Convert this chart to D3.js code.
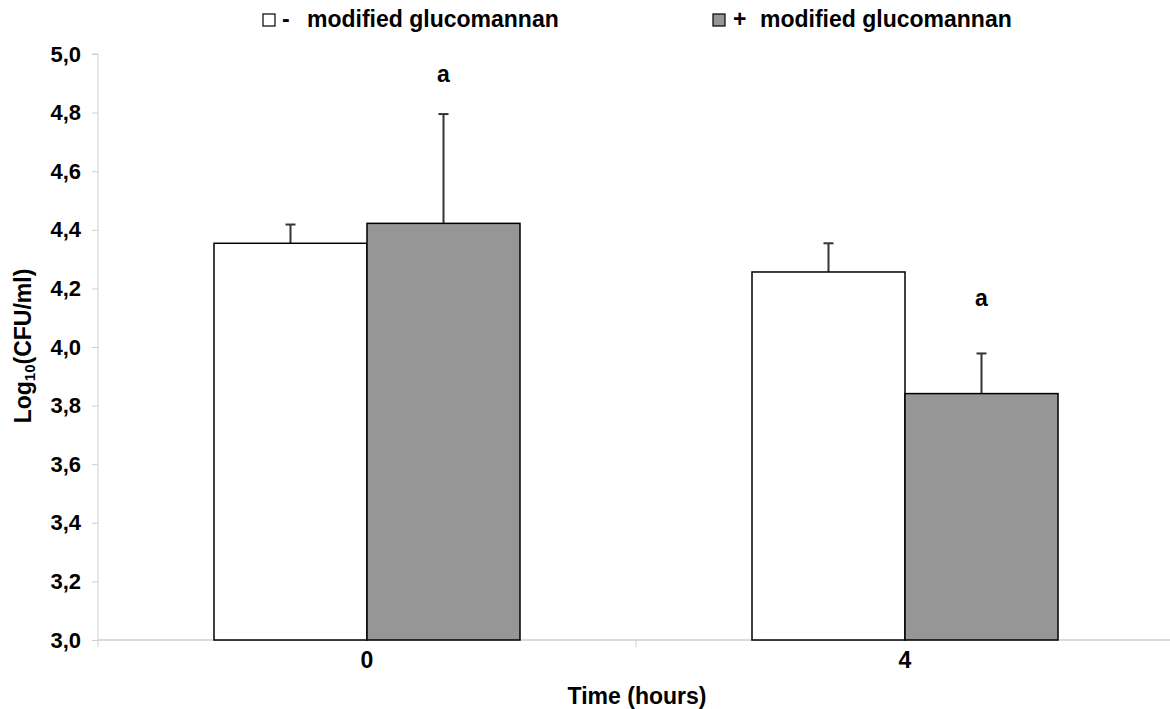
<!DOCTYPE html>
<html><head><meta charset="utf-8">
<script src="https://cdn.jsdelivr.net/npm/d3@7"></script>
<style>body{margin:0;background:#fff}svg{display:block;font-family:"Liberation Sans",Arial,sans-serif;font-weight:bold}</style>
</head><body>
<svg id="c" width="1170" height="709"></svg>
<script>
const categories = ["0", "4"];
const seriesSymbols = ["-", "+"];
const seriesNames = ["modified glucomannan", "modified glucomannan"];
const seriesColors = ["#ffffff", "#969696"];
const withoutValues = [4.354, 4.256];
const withoutErrors = [0.064, 0.098];
const withValues = [4.422, 3.841];
const withErrors = [0.373, 0.137];
const withLabels = ["a", "a"];
const yTicks = [3.0, 3.2, 3.4, 3.6, 3.8, 4.0, 4.2, 4.4, 4.6, 4.8, 5.0];

(function () {
const series = [
  {sym: seriesSymbols[0], name: seriesNames[0], color: seriesColors[0], values: withoutValues, errors: withoutErrors, labels: ["", ""]},
  {sym: seriesSymbols[1], name: seriesNames[1], color: seriesColors[1], values: withValues, errors: withErrors, labels: withLabels}
];

const svg = d3.select("#c");
const pl = 98, pr = 1174, pt = 54, pb = 640;
const FS = 23;

const y = d3.scaleLinear().domain([3, 5]).range([pb, pt]);
const x0 = d3.scaleBand().domain(categories).range([pl, pr]).paddingInner(0).paddingOuter(0);
const groupW = 306;
const x1 = d3.scaleBand().domain([0, 1]).range([0, groupW]).padding(0);
const offset = (x0.bandwidth() - groupW) / 2;

// y axis
const yAxis = d3.axisLeft(y).tickValues(yTicks).tickSize(6).tickFormat(d => d3.format(".1f")(d).replace(".", ","));
const gy = svg.append("g").attr("transform", `translate(${pl},0)`).call(yAxis);
gy.select(".domain").attr("stroke", "#cfcfcf").attr("stroke-width", 1).attr("d", `M-6,${pt}H0V${pb}`);
gy.selectAll(".tick line").attr("stroke", "#cfcfcf");
gy.selectAll(".tick text").attr("fill", "#000").attr("font-size", 22).attr("font-weight", "bold")
  .attr("font-family", "Liberation Sans, Arial, sans-serif").attr("x", -17);

// x axis
const gx = svg.append("g").attr("transform", `translate(0,${pb})`);
gx.append("line").attr("x1", pl).attr("x2", 1170).attr("stroke", "#cfcfcf").attr("stroke-width", 1.5);
gx.selectAll(".bt").data([x0(categories[1])]).enter().append("line")
  .attr("x1", d => d).attr("x2", d => d).attr("y1", 0).attr("y2", 7).attr("stroke", "#cfcfcf");
gx.append("line").attr("x1", pl).attr("x2", pl).attr("y1", 0).attr("y2", 7).attr("stroke", "#cfcfcf");
gx.selectAll(".cl").data(categories).enter().append("text")
  .attr("x", d => x0(d) + x0.bandwidth() / 2).attr("y", 28).attr("text-anchor", "middle")
  .attr("font-size", FS).text(d => d);

// bars
series.forEach((s, si) => {
  const g = svg.append("g");
  categories.forEach((c, ci) => {
    const bx = x0(c) + offset + x1(si);
    const bw = x1.bandwidth();
    const v = s.values[ci];
    const cx = bx + bw / 2;
    g.append("line").attr("x1", cx).attr("x2", cx).attr("y1", y(v)).attr("y2", y(v + s.errors[ci]))
      .attr("stroke", "#333").attr("stroke-width", 2);
    g.append("line").attr("x1", cx - 5).attr("x2", cx + 5).attr("y1", y(v + s.errors[ci])).attr("y2", y(v + s.errors[ci]))
      .attr("stroke", "#333").attr("stroke-width", 2);
    g.append("rect").attr("x", bx).attr("y", y(v)).attr("width", bw).attr("height", y(3) - y(v))
      .attr("fill", s.color).attr("stroke", "#000").attr("stroke-width", 1.5);
    if (s.labels[ci]) {
      g.append("text").attr("x", cx).attr("y", y(v + s.errors[ci]) - (ci === 0 ? 32 : 47))
        .attr("text-anchor", "middle").attr("font-size", FS).text(s.labels[ci]);
    }
  });
});

// axis titles
svg.append("text").attr("x", 637).attr("y", 704).attr("text-anchor", "middle").attr("font-size", FS).text("Time (hours)");
const yt = svg.append("text").attr("transform", `translate(31,346) rotate(-90)`).attr("text-anchor", "middle").attr("font-size", FS);
yt.append("tspan").text("Log");
yt.append("tspan").attr("font-size", 15).attr("dy", 4).text("10");
yt.append("tspan").attr("dy", -4).text("(CFU/ml)");

// legend
const legX = [263, 713];
const symDx = [19, 20];
const nameDx = [44, 47];
series.forEach((s, i) => {
  const g = svg.append("g").attr("transform", `translate(${legX[i]},14)`);
  g.append("rect").attr("x", 0).attr("y", 0).attr("width", 12).attr("height", 12)
    .attr("fill", s.color).attr("stroke", "#000").attr("stroke-width", 1.2);
  g.append("text").attr("x", symDx[i]).attr("y", 13).attr("font-size", FS).text(s.sym);
  g.append("text").attr("x", nameDx[i]).attr("y", 13).attr("font-size", FS).text(s.name);
});
})();
</script>
</body></html>
